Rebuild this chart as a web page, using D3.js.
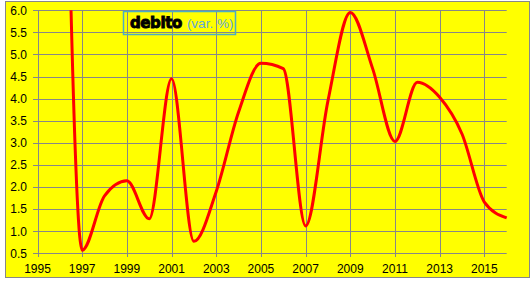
<!DOCTYPE html>
<html>
<head>
<meta charset="utf-8">
<script src="https://cdn.jsdelivr.net/npm/d3@7"></script>
<style>
    body { margin: 0; background: #fff; }
    svg { display: block; font-family: "Liberation Sans", Arial, sans-serif; }
</style>
</head>
<body>
<div id="chart"></div>
<script>
// Years and yearly change of "debito" (var. %)
var years = [1996, 1997, 1998, 1999, 2000, 2001, 2002, 2003, 2004, 2005, 2006,
             2007, 2008, 2009, 2010, 2011, 2012, 2013, 2014, 2015, 2016];
var debito = [18, 0.57, 1.8, 2.14, 1.28, 4.45, 0.77, 1.9, 3.7, 4.8, 4.68,
              1.12, 3.95, 5.95, 4.68, 3.03, 4.37, 4.03, 3.2, 1.66, 1.3];
var xTicks = [1995, 1997, 1999, 2001, 2003, 2005, 2007, 2009, 2011, 2013, 2015];
var yTicks = [0.5, 1.0, 1.5, 2.0, 2.5, 3.0, 3.5, 4.0, 4.5, 5.0, 5.5, 6.0];

var W = 532, H = 286;
var GRID = "#878787";

var svg = d3.select("#chart").append("svg")
    .attr("width", W)
    .attr("height", H);

// Chart area (yellow with grey border)
svg.append("rect")
    .attr("x", 5.5).attr("y", 1.5)
    .attr("width", 524).attr("height", 276)
    .attr("fill", "#ffff00")
    .attr("stroke", GRID)
    .attr("stroke-width", 1);

var x = d3.scaleLinear().domain([1995, 2016]).range([37.5, 506.7]);
var y = d3.scaleLinear().domain([0.5, 6.0]).range([253.3, 10.3]);

// Horizontal gridlines + left ticks
svg.append("g")
    .selectAll("line")
    .data(yTicks)
    .enter().append("line")
        .attr("x1", 33)
        .attr("x2", x(2016))
        .attr("y1", function(d) { return Math.round(y(d)) + 0.5; })
        .attr("y2", function(d) { return Math.round(y(d)) + 0.5; })
        .attr("stroke", GRID)
        .attr("stroke-width", 1);

// Vertical gridlines + bottom ticks
svg.append("g")
    .selectAll("line")
    .data(xTicks)
    .enter().append("line")
        .attr("x1", function(d) { return Math.round(x(d)) + 0.5; })
        .attr("x2", function(d) { return Math.round(x(d)) + 0.5; })
        .attr("y1", y(6.0))
        .attr("y2", 257)
        .attr("stroke", GRID)
        .attr("stroke-width", 1);

// Y tick labels
svg.append("g")
    .selectAll("text")
    .data(yTicks)
    .enter().append("text")
        .attr("x", 27)
        .attr("y", function(d) { return y(d); })
        .attr("dy", "0.36em")
        .attr("text-anchor", "end")
        .attr("font-size", 12)
        .attr("fill", "#000")
        .text(function(d) { return d3.format(".1f")(d); });

// X tick labels
svg.append("g")
    .selectAll("text")
    .data(xTicks)
    .enter().append("text")
        .attr("x", function(d) { return x(d); })
        .attr("y", 273)
        .attr("text-anchor", "middle")
        .attr("font-size", 12)
        .attr("fill", "#000")
        .text(function(d) { return d; });

// Clip the line to the plot area
svg.append("clipPath")
    .attr("id", "plot-clip")
    .append("rect")
        .attr("x", x(1995))
        .attr("y", y(6.0))
        .attr("width", x(2016) - x(1995) + 2)
        .attr("height", y(0.5) - y(6.0) + 10);

var line = d3.line()
    .x(function(d, i) { return x(years[i]); })
    .y(function(d) { return y(d); })
    .curve(d3.curveMonotoneX);

svg.append("path")
    .datum(debito)
    .attr("clip-path", "url(#plot-clip)")
    .attr("d", line)
    .attr("fill", "none")
    .attr("stroke", "#ff0000")
    .attr("stroke-width", 3)
    .attr("stroke-linejoin", "round");

// Title box
svg.append("rect")
    .attr("x", 123.5).attr("y", 11.5)
    .attr("width", 112).attr("height", 23)
    .attr("fill", "none")
    .attr("stroke", "#4bacc6")
    .attr("stroke-width", 1.5);

var title = svg.append("text")
    .attr("x", 130)
    .attr("y", 28);
title.append("tspan")
    .attr("font-family", "'DejaVu Sans', sans-serif")
    .attr("font-weight", "bold")
    .attr("font-size", 15)
    .attr("fill", "#000")
    .attr("stroke", "#000")
    .attr("stroke-width", 0.9)
    .attr("letter-spacing", -0.4)
    .text("debito");
title.append("tspan")
    .attr("fill", "#5fa8d8")
    .attr("font-size", 13.5)
    .attr("dx", 5)
    .text("(var. %)");
</script>
</body>
</html>
